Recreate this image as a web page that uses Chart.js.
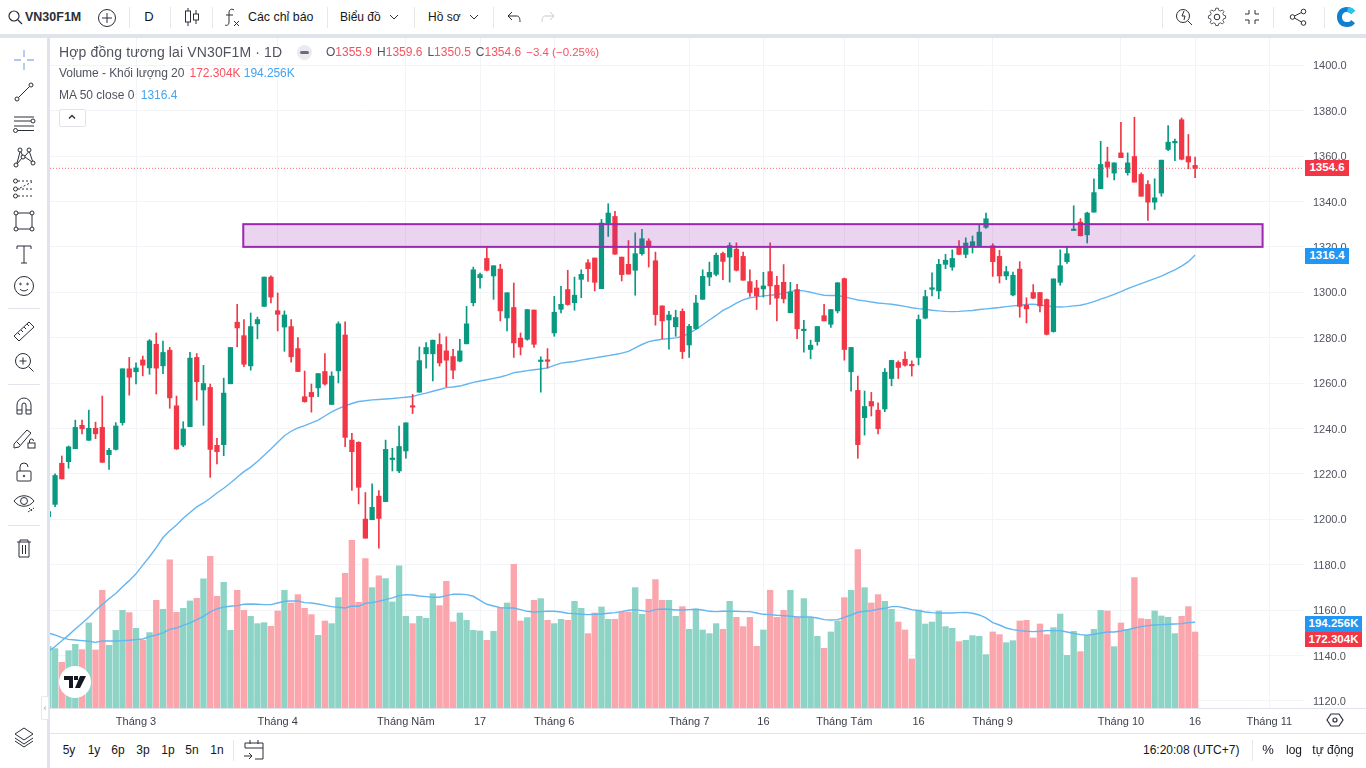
<!DOCTYPE html>
<html lang="vi">
<head>
<meta charset="utf-8">
<title>VN30F1M</title>
<script src="https://cdn.jsdelivr.net/npm/chart.js@4/dist/chart.umd.min.js"></script>
<style>
  html, body { margin: 0; width: 1366px; height: 768px; overflow: hidden; background: #fff;
    font-family: "Liberation Sans", Arial, sans-serif; color: #131722; }
  #priceChart { position: absolute; left: 50px; top: 38px; }
  .band { position: absolute; background: #e0e3eb; }
  .sep  { position: absolute; width: 1px; background: #e6e8ee; }
  .t    { position: absolute; white-space: nowrap; transform: translateY(-50%); font-size: 12px; line-height: 14px; }
  .c    { transform: translate(-50%, -50%); }
  .ic   { position: absolute; width: 28px; height: 28px; margin: -14px 0 0 -14px; fill: none; stroke: #2a2e39; stroke-width: 1; }
  .box  { position: absolute; left: 1305px; width: 44px; height: 15.5px; line-height: 15.5px; color: #fff;
    font-size: 11.5px; font-weight: bold; text-align: center; }
  .wide { width: 57px; }
  .red  { color: #f7525f; }
  .blue { color: #42a5f5; }
  .gap  { margin-left: 5px; }
</style>
</head>
<body>

<canvas id="priceChart" width="1316" height="695"></canvas>

<!-- khung toolbar -->
<div class="band" style="left:0;top:34px;width:1366px;height:4px"></div>
<div class="band" style="left:47px;top:34px;width:3px;height:734px"></div>
<div class="band" style="left:50px;top:708px;width:1316px;height:1px"></div>
<div class="band" style="left:50px;top:733px;width:1316px;height:1px"></div>

<!-- toolbar trên -->
<svg class="ic" style="left:15px;top:17px" viewBox="0 0 28 28"><circle cx="13" cy="13" r="5" stroke-width="1.2"/><path d="M17 17l4 4" stroke-width="1.2"/></svg>
<div class="t" style="left:25px;top:17px;font-size:12.5px;font-weight:bold;color:#2a2e39">VN30F1M</div>
<svg class="ic" style="left:107px;top:18px" viewBox="0 0 28 28"><circle cx="14" cy="14" r="8.5"/><path d="M14 9v10M9 14h10"/></svg>
<div class="sep" style="left:129px;top:7px;height:21px"></div>
<div class="t c" style="left:149px;top:17px;font-size:13px">D</div>
<div class="sep" style="left:170px;top:7px;height:21px"></div>
<svg class="ic" style="left:192px;top:17px" viewBox="0 0 28 28"><path d="M10 5v18M18 7v14"/><rect x="7.5" y="8" width="5" height="11" fill="#fff"/><rect x="15.5" y="11" width="5" height="6" fill="#fff"/></svg>
<div class="sep" style="left:212px;top:7px;height:21px"></div>
<svg class="ic" style="left:232px;top:16px" viewBox="0 0 28 28"><path d="M16 8c-3-2-5 0-5 3v9c0 3-2 4-4 3M8 13h7M16 19l5 5M21 19l-5 5"/></svg>
<div class="t" style="left:248px;top:17px;font-size:12.400px">Các chỉ báo</div>
<div class="sep" style="left:327px;top:7px;height:21px"></div>
<div class="t" style="left:340px;top:17px">Biểu đồ</div>
<svg class="ic" style="left:394px;top:17px" viewBox="0 0 28 28"><path d="M10 12l4 4 4-4"/></svg>
<div class="sep" style="left:414px;top:7px;height:21px"></div>
<div class="t" style="left:428px;top:17px">Hồ sơ</div>
<svg class="ic" style="left:474px;top:17px" viewBox="0 0 28 28"><path d="M10 12l4 4 4-4"/></svg>
<div class="sep" style="left:493px;top:7px;height:21px"></div>
<svg class="ic" style="left:514px;top:18px" viewBox="0 0 28 28"><path d="M12 8l-4 4 4 4M8 12h9c2 0 3 2 3 6"/></svg>
<svg class="ic" style="left:548px;top:18px;stroke:#c8cbd3" viewBox="0 0 28 28"><path d="M16 8l4 4-4 4M20 12h-9c-2 0-3 2-3 6"/></svg>

<div class="sep" style="left:1162px;top:7px;height:21px"></div>
<svg class="ic" style="left:1184px;top:17px" viewBox="0 0 28 28"><circle cx="13" cy="13" r="6.5"/><path d="M18 18l4 4M14 8l-2 5h3l-1 4"/></svg>
<svg class="ic" style="left:1217px;top:17px" viewBox="0 0 28 28"><circle cx="14" cy="14" r="2.8"/><path d="M12.5 5.5h3l.6 2.6 2.3 1 2.3-1.4 2 2-1.4 2.3 1 2.3 2.4.7v3l-2.4.6-1 2.3 1.4 2.3-2 2-2.3-1.4-2.3 1-.6 2.4h-3l-.6-2.4-2.3-1-2.3 1.4-2-2 1.4-2.3-1-2.3-2.4-.6v-3l2.4-.7 1-2.3-1.4-2.3 2-2 2.3 1.4 2.3-1z" transform="translate(14 14) scale(.8) translate(-14 -16.5)"/></svg>
<svg class="ic" style="left:1252px;top:17px" viewBox="0 0 28 28"><path d="M11 7v4H7M17 7v4h4M11 21v-4H7M17 21v-4h4"/></svg>
<div class="sep" style="left:1273px;top:7px;height:21px"></div>
<svg class="ic" style="left:1298px;top:17px" viewBox="0 0 28 28"><circle cx="19.5" cy="8.5" r="2.3"/><circle cx="8.5" cy="14" r="2.3"/><circle cx="19.5" cy="20" r="2.3"/><path d="M10.5 13l7-3.5M10.5 15l7 4"/></svg>
<div class="sep" style="left:1324px;top:7px;height:21px"></div>
<svg class="ic" style="left:1347px;top:17px;stroke:none" viewBox="0 0 28 28"><path d="M22 8c-2-3-5-4-8-4-6 0-10 4-10 10s4 10 10 10c3 0 6-1 8-4l-4-3c-1 2-2 2-4 2-3 0-5-2-5-5s2-5 5-5c2 0 3 1 4 2z" fill="#0f7fd0"/><path d="M22 8l-4 3c-1-1-2-2-4-2l1-5c3 0 5 1 7 4z" fill="#29c5ee"/></svg>

<!-- toolbar trái -->
<svg class="ic" style="left:24px;top:60px;stroke:#9db2ee;stroke-width:1.4" viewBox="0 0 28 28"><path d="M14 4v7M14 17v7M4 14h7M17 14h7"/></svg>
<svg class="ic" style="left:24px;top:92px" viewBox="0 0 28 28"><circle cx="7" cy="21" r="2"/><circle cx="21" cy="7" r="2"/><path d="M8.5 19.5l11-11"/></svg>
<svg class="ic" style="left:24px;top:125px" viewBox="0 0 28 28"><path d="M4 6h20M4 10h17M4 15h20M8 19.5h16"/><circle cx="23" cy="10" r="2"/><circle cx="5.500" cy="19.500" r="2"/></svg>
<svg class="ic" style="left:24px;top:157px" viewBox="0 0 28 28"><circle cx="6" cy="22" r="2"/><circle cx="10" cy="7" r="2"/><circle cx="13" cy="14" r="2"/><circle cx="19" cy="7" r="2"/><circle cx="23" cy="20" r="2"/><path d="M7 20l3-11M7 21l5-6M11 9l1.500 3.500M15 13l3.500-4M19.500 9l3 9M15 14l7 5"/></svg>
<svg class="ic" style="left:24px;top:189px" viewBox="0 0 28 28"><circle cx="5.500" cy="6" r="2"/><circle cx="5.500" cy="14" r="2"/><circle cx="5.500" cy="21" r="2"/><path d="M8 6h16M8 14h16M8 21h16M10 13l12-6" stroke-dasharray="2 2"/></svg>
<svg class="ic" style="left:24px;top:221px" viewBox="0 0 28 28"><rect x="6" y="6" width="16" height="16"/><circle cx="6" cy="6" r="2" fill="#fff"/><circle cx="22" cy="6" r="2" fill="#fff"/><circle cx="6" cy="22" r="2" fill="#fff"/><circle cx="22" cy="22" r="2" fill="#fff"/></svg>
<svg class="ic" style="left:24px;top:254px" viewBox="0 0 28 28"><path d="M7 9V6h14v3M14 6v17M11 23h6"/></svg>
<svg class="ic" style="left:24px;top:286px" viewBox="0 0 28 28"><circle cx="14" cy="14" r="9.500"/><circle cx="10.500" cy="12" r=".8"/><circle cx="17.500" cy="12" r=".8"/><path d="M10 17c2 2.500 6 2.500 8 0"/></svg>
<div class="band" style="left:8px;top:308px;width:32px;height:1px"></div>
<svg class="ic" style="left:24px;top:331px" viewBox="0 0 28 28"><path d="M4 19L19 5l5 5L9 24zM8 16l2 2M11 13l2 2M14 10l2 2M17 7l2 2"/></svg>
<svg class="ic" style="left:24px;top:362px" viewBox="0 0 28 28"><circle cx="13" cy="13" r="7.500"/><path d="M18.500 18.500l5 5M13 9.500v7M9.500 13h7"/></svg>
<div class="band" style="left:8px;top:384px;width:32px;height:1px"></div>
<svg class="ic" style="left:24px;top:406px" viewBox="0 0 28 28"><path d="M7 22V13a7 7 0 0 1 14 0v9h-5v-9a2 2 0 0 0-4 0v9zM7 18h5M16 18h5"/></svg>
<svg class="ic" style="left:24px;top:438px" viewBox="0 0 28 28"><path d="M4 20L17 6l4 3L9 23l-5 1zM7 18l3 3"/><rect x="18" y="19" width="7" height="5"/><path d="M19.500 19v-2a2 2 0 0 1 4 0"/></svg>
<svg class="ic" style="left:24px;top:472px" viewBox="0 0 28 28"><rect x="7" y="13" width="14" height="10" rx="1"/><path d="M10 13V9a4 4 0 0 1 8 0"/><circle cx="14" cy="18" r=".8"/></svg>
<svg class="ic" style="left:24px;top:502px" viewBox="0 0 28 28"><path d="M4 13c5-7 15-7 20 0-5 7-15 7-20 0z"/><circle cx="14" cy="13" r="3.500"/><path d="M18 24l6-4M19 20l3 3" stroke-dasharray="2 1"/></svg>
<div class="band" style="left:8px;top:525px;width:32px;height:1px"></div>
<svg class="ic" style="left:24px;top:548px" viewBox="0 0 28 28"><path d="M7 8h14M10 8V6h8v2M9 8v15h10V8M12.500 11v9M15.500 11v9"/></svg>
<svg class="ic" style="left:24px;top:737px" viewBox="0 0 28 28"><path d="M14 5l9 6-9 6-9-6zM5 15l9 6 9-6M5 18l9 6 9-6"/></svg>

<!-- legend -->
<div class="t" style="left:59px;top:52px;font-size:14px;letter-spacing:.13px;color:#50535e">Hợp đồng tương lai VN30F1M · 1D</div>
<div style="position:absolute;left:297px;top:45px;width:15px;height:15px;border-radius:50%;background:#e9ebf0"></div>
<div style="position:absolute;left:300px;top:51px;width:9px;height:3px;border-radius:2px;background:#6a6d78"></div>
<div class="t" id="ohlcLegend" style="left:326px;top:52px;color:#50535e"></div>
<div class="t" style="left:59px;top:73px;color:#50535e;letter-spacing:-.06px">Volume - Khối lượng 20 <span class="red" style="margin-left:2px">172.304K</span> <span class="blue" style="margin-left:0">194.256K</span></div>
<div class="t" style="left:59px;top:95px;color:#50535e">MA 50 close 0 <span class="blue" style="margin-left:3px">1316.4</span></div>
<div style="position:absolute;left:59px;top:109px;width:25px;height:16px;border:1px solid #e0e3eb;border-radius:2px;background:#fff"></div>
<svg class="ic" style="left:72px;top:117px;stroke-width:1.4" viewBox="0 0 28 28"><path d="M11 15.500l3-3 3 3"/></svg>

<!-- nhãn giá bên phải -->
<div class="box" style="top:160px;background:#f23645">1354.6</div>
<div class="box" style="top:248px;background:#2196f3">1316.4</div>
<div class="box wide" style="top:616px;background:#2196f3">194.256K</div>
<div class="box wide" style="top:631.500px;background:#f23645">172.304K</div>

<!-- logo TV -->
<div style="position:absolute;left:59px;top:666px;width:32px;height:32px;border-radius:50%;background:#fff"></div>
<svg style="position:absolute;left:64px;top:675px" width="22" height="14" viewBox="0 0 22 14"><path d="M0 1h9v12H5V5H0zM10 1h4v4h-4zM16 1h6l-6 12h-5z" fill="#131722"/></svg>
<div style="position:absolute;left:41px;top:696px;width:6px;height:22px;border:1px solid #e6e8ee;border-radius:2px;background:#fff;color:#9598a1;font-size:9px;line-height:22px;text-align:center">‹</div>

<!-- trục thời gian, nút đáy -->
<svg class="ic" style="left:1335px;top:720px;stroke-width:1.2" viewBox="0 0 28 28"><path d="M10 8h8l4 6-4 6h-8l-4-6z"/><circle cx="14" cy="14" r="2"/></svg>
<div class="t c" style="left:69px;top:750px">5y</div>
<div class="t c" style="left:94px;top:750px">1y</div>
<div class="t c" style="left:118px;top:750px">6p</div>
<div class="t c" style="left:143px;top:750px">3p</div>
<div class="t c" style="left:168px;top:750px">1p</div>
<div class="t c" style="left:192px;top:750px">5n</div>
<div class="t c" style="left:217px;top:750px">1n</div>
<div class="sep" style="left:233px;top:740px;height:21px"></div>
<svg class="ic" style="left:254px;top:750px" viewBox="0 0 28 28"><path d="M5 12V7h18v16H15M5 12h18M10 4v4M18 4v4M4 20h8M9 17l3 3-3 3"/></svg>
<div class="t" style="left:1143px;top:750px">16:20:08 (UTC+7)</div>
<div class="sep" style="left:1252px;top:740px;height:21px"></div>
<div class="t c" style="left:1268px;top:750px;font-size:13px">%</div>
<div class="t c" style="left:1294px;top:750px">log</div>
<div class="t c" style="left:1333px;top:750px">tự động</div>

<script>
'use strict';

// ── Data ──────────────────────────────────────────────────
const opens = [
  1201.2,1206.6,1224.7,1225.4,1231.1,1241.4,1234.8,1240.1,1240.5,1228.5,
  1230.8,1242.6,1266.3,1265.0,1270.2,1266.7,1277.1,1267.6,1274.5,1250.0,
  1232.7,1240.8,1271.3,1257.0,1258.1,1232.6,1232.9,1259.7,1286.8,1280.9,
  1267.6,1286.1,1293.8,1306.7,1291.9,1284.7,1284.9,1275.2,1254.0,1255.9,
  1257.9,1265.1,1250.6,1265.4,1281.2,1234.9,1233.9,1200.1,1199.8,1210.2,
  1207.8,1226.3,1221.3,1230.1,1250.0,1256.0,1272.9,1272.9,1277.0,1274.2,
  1271.7,1269.7,1277.3,1295.4,1306.4,1314.9,1307.2,1310.2,1288.7,1293.3,
  1279.8,1279.3,1292.2,1269.5,1270.2,1282.1,1292.5,1301.2,1295.4,1305.7,
  1313.0,1315.1,1301.6,1330.5,1333.4,1315.5,1312.3,1309.7,1317.0,1322.6,
  1313.9,1294.0,1287.8,1284.8,1291.6,1276.8,1284.0,1296.9,1306.7,1307.9,
  1317.1,1315.5,1319.0,1315.8,1304.7,1301.9,1301.5,1309.1,1303.1,1304.4,
  1291.0,1301.2,1283.1,1274.8,1278.3,1289.7,1285.9,1291.8,1306.0,1265.0,
  1256.8,1244.8,1251.9,1248.1,1248.6,1262.0,1269.1,1270.5,1268.0,1271.3,
  1288.6,1301.3,1300.6,1312.3,1311.1,1320.2,1316.7,1320.2,1320.5,1328.6,
  1320.5,1315.8,1307.2,1298.8,1310.2,1294.3,1299.9,1299.9,1296.8,1282.7,
  1304.4,1313.5,1327.2,1330.9,1325.3,1335.3,1345.6,1357.4,1352.5,1361.4,
  1352.7,1359.8,1351.9,1347.5,1339.7,1343.7,1362.9,1365.8,1376.0,1359.8,
  1355.9
];
const closes = [
  1203.4,1219.3,1217.8,1231.9,1240.5,1239.9,1240.1,1237.7,1225.1,1230.4,
  1241.1,1266.3,1262.6,1266.7,1267.9,1278.6,1266.6,1273.5,1253.5,1231.0,
  1239.8,1271.0,1260.6,1259.8,1230.8,1229.8,1255.6,1275.7,1284.3,1268.3,
  1284.9,1288.0,1306.7,1297.9,1290.3,1290.0,1271.6,1265.1,1251.8,1254.0,
  1264.2,1259.6,1263.1,1286.1,1236.1,1229.8,1214.1,1191.7,1205.3,1200.4,
  1230.8,1227.0,1232.1,1242.5,1249.4,1269.9,1275.7,1278.9,1268.9,1270.1,
  1265.7,1274.2,1286.1,1309.9,1307.8,1309.7,1311.7,1291.8,1299.8,1277.7,
  1275.9,1292.4,1277.1,1270.1,1269.6,1291.2,1294.7,1294.6,1298.7,1307.9,
  1310.4,1304.4,1330.5,1334.9,1316.8,1307.8,1308.0,1317.0,1323.6,1320.4,
  1290.2,1287.4,1290.0,1288.9,1273.9,1285.0,1295.3,1307.0,1308.8,1316.3,
  1313.6,1320.6,1309.7,1305.3,1299.9,1298.4,1302.8,1302.8,1297.4,1297.1,
  1300.1,1283.9,1283.4,1276.7,1284.9,1287.4,1292.4,1304.2,1274.8,1275.7,
  1232.9,1249.7,1249.9,1239.9,1264.8,1270.0,1266.9,1267.9,1267.6,1288.0,
  1298.1,1302.0,1312.3,1314.1,1314.9,1316.7,1321.7,1322.3,1326.5,1332.4,
  1313.5,1307.2,1309.1,1307.5,1293.8,1292.7,1297.4,1294.0,1281.5,1305.9,
  1311.7,1317.0,1327.8,1324.9,1334.9,1343.9,1356.3,1355.1,1357.0,1359.3,
  1357.0,1348.5,1342.3,1339.7,1341.6,1358.2,1366.1,1366.5,1358.6,1357.4,
  1354.6
];
const highs = [
  1204.0,1220.0,1227.9,1232.3,1243.7,1243.7,1248.1,1242.8,1254.3,1231.3,
  1242.6,1266.3,1271.3,1268.9,1271.9,1279.2,1282.1,1278.5,1275.7,1254.3,
  1243.0,1273.6,1273.0,1267.8,1259.6,1235.7,1262.2,1275.7,1294.7,1288.0,
  1290.9,1289.1,1306.7,1307.2,1299.7,1291.8,1288.0,1280.1,1265.3,1259.6,
  1264.2,1273.0,1265.0,1287.0,1287.0,1237.9,1234.2,1211.8,1215.6,1212.7,
  1234.9,1231.3,1241.1,1242.5,1255.0,1275.9,1277.9,1278.9,1281.8,1280.4,
  1274.9,1279.3,1293.8,1311.1,1308.5,1320.2,1311.7,1312.3,1299.8,1304.1,
  1282.1,1292.4,1292.2,1271.6,1275.2,1298.2,1302.6,1309.7,1306.7,1309.9,
  1314.4,1315.1,1332.1,1339.0,1335.7,1315.5,1322.8,1326.2,1327.7,1323.6,
  1317.7,1294.0,1291.6,1292.1,1292.7,1285.9,1298.7,1309.9,1313.3,1317.3,
  1317.7,1321.8,1321.8,1317.7,1309.9,1305.3,1308.8,1321.8,1307.0,1312.2,
  1304.4,1303.5,1287.7,1278.9,1284.9,1294.7,1292.4,1304.2,1306.3,1275.7,
  1263.1,1256.5,1255.9,1251.3,1266.4,1270.0,1269.8,1273.8,1269.8,1290.0,
  1300.9,1308.6,1314.5,1316.7,1318.7,1322.8,1324.0,1324.8,1329.9,1334.9,
  1321.4,1318.5,1311.4,1308.9,1313.5,1297.6,1303.4,1299.9,1297.1,1305.9,
  1318.7,1319.9,1338.1,1332.4,1335.3,1350.0,1366.5,1363.9,1357.0,1374.9,
  1361.4,1377.1,1352.6,1349.2,1350.0,1358.2,1373.4,1367.5,1376.8,1369.5,
  1359.6
];
const lows = [
  1200.0,1205.6,1217.8,1222.5,1231.1,1237.6,1234.8,1235.5,1225.1,1222.0,
  1230.5,1241.5,1254.7,1259.6,1263.2,1263.9,1255.2,1264.2,1248.9,1230.8,
  1232.0,1240.8,1252.5,1241.4,1218.5,1224.4,1228.0,1259.7,1276.0,1267.2,
  1265.7,1279.5,1293.8,1295.3,1283.0,1274.0,1269.2,1265.1,1251.6,1247.2,
  1254.0,1259.1,1250.6,1260.1,1232.0,1212.7,1206.8,1191.7,1199.8,1187.3,
  1207.8,1221.3,1220.6,1226.9,1246.6,1256.0,1266.6,1261.0,1267.5,1258.4,
  1262.0,1269.4,1277.3,1294.0,1301.8,1309.4,1296.9,1287.4,1283.0,1271.3,
  1272.4,1278.9,1275.7,1256.0,1266.6,1280.6,1290.9,1294.3,1292.1,1297.6,
  1304.8,1300.6,1301.6,1324.6,1316.7,1305.0,1308.0,1298.7,1316.3,1311.1,
  1285.5,1279.6,1274.9,1280.6,1270.8,1271.3,1283.6,1296.9,1302.9,1307.2,
  1305.6,1304.5,1309.4,1305.3,1298.2,1292.4,1297.9,1294.7,1287.4,1295.3,
  1290.9,1279.6,1273.6,1270.7,1276.7,1287.4,1284.5,1290.9,1270.1,1256.5,
  1226.9,1237.1,1245.5,1237.6,1247.4,1258.8,1262.0,1267.5,1263.1,1268.0,
  1288.3,1298.4,1297.2,1310.4,1309.7,1316.6,1315.2,1317.3,1320.2,1328.1,
  1307.0,1304.1,1305.6,1298.4,1289.0,1286.5,1297.2,1291.3,1281.2,1282.4,
  1303.1,1312.7,1327.2,1324.8,1321.7,1335.3,1345.6,1350.7,1349.5,1359.3,
  1351.6,1348.5,1342.3,1331.6,1336.5,1342.3,1362.4,1358.0,1358.3,1354.4,
  1350.5
];
// Khối lượng, đơn vị K
const volumes = [
  140.0,134.6,103.6,130.0,144.4,132.3,192.8,131.5,266.9,142.1,
  176.1,221.5,216.2,180.7,153.5,170.9,244.2,223.8,335.7,217.0,
  226.0,242.7,248.7,292.6,344.0,253.3,285.0,176.1,266.9,221.5,
  207.9,191.3,193.5,185.2,220.0,266.9,238.1,257.0,226.0,211.7,
  164.8,197.3,191.3,250.2,305.4,380.3,239.7,338.7,272.9,299.4,
  293.3,240.4,322.1,207.9,191.3,207.9,203.4,259.3,232.1,287.3,
  195.0,215.5,198.8,176.1,174.6,153.5,173.9,227.6,238.1,325.8,
  197.3,204.9,244.2,248.0,198.8,191.3,201.1,198.8,241.9,226.0,
  168.6,215.5,229.1,201.1,201.1,217.7,217.7,272.9,212.4,246.5,
  291.1,244.2,244.2,207.9,229.8,178.4,224.5,176.9,168.6,191.3,
  178.4,241.9,205.6,184.5,205.6,139.9,176.9,266.9,205.6,221.5,
  266.9,204.9,248.0,204.9,162.5,135.3,172.4,197.3,250.2,266.9,
  359.1,272.9,238.1,257.0,241.9,223.8,195.0,176.9,111.1,222.3,
  190.5,195.0,220.0,184.5,180.7,150.4,153.5,164.1,162.5,121.0,
  172.4,166.3,148.2,152.7,197.3,198.8,158.8,190.5,166.3,182.2,
  213.2,119.4,173.9,127.8,164.1,178.4,221.5,220.0,139.1,192.8,
  178.4,295.6,202.6,201.1,220.0,208.7,205.6,168.6,207.9,229.8,
  172.3
];
const volumeMa = [
  170.0,165.6,159.5,155.7,154.2,152.7,151.2,148.9,152.0,152.0,
  152.0,152.7,153.5,155.0,156.5,161.8,165.6,170.1,178.4,181.4,
  187.5,192.8,200.3,207.9,217.7,224.5,229.1,230.6,232.1,235.1,
  235.9,235.1,234.4,234.4,238.1,241.9,242.7,242.7,238.9,238.1,
  235.9,232.8,229.8,228.3,226.8,231.3,230.6,237.4,238.9,241.9,
  245.7,249.5,254.8,257.0,256.3,254.0,252.5,251.0,251.0,254.8,
  258.1,257.8,257.0,253.3,244.2,235.1,231.3,227.6,226.8,226.8,
  223.0,219.2,217.7,218.5,219.2,219.2,217.7,214.7,214.0,212.4,
  211.7,212.4,213.2,214.7,216.2,218.5,221.5,223.0,220.8,218.5,
  223.0,224.5,223.8,222.3,222.3,223.0,223.8,222.3,219.2,218.5,
  219.2,219.2,219.2,218.5,218.5,215.5,212.4,211.7,210.2,209.4,
  207.9,206.4,206.4,206.4,204.1,200.3,199.6,200.3,205.6,210.9,
  217.0,219.2,220.8,223.8,226.0,229.8,229.8,226.8,223.0,220.8,
  217.7,216.2,215.5,215.5,215.5,216.2,216.9,214.7,210.9,204.1,
  193.5,188.2,181.4,177.7,175.4,173.9,173.1,173.9,175.4,175.4,
  175.4,172.4,169.3,166.3,164.8,167.1,170.1,172.4,172.4,174.6,
  177.7,181.4,184.5,186.7,188.2,189.0,189.8,190.5,191.3,193.5,
  194.3
];
const priceMa = [
  1141.9,1144.0,1146.5,1149.0,1151.7,1154.2,1156.9,1159.8,1162.5,1165.0,
  1167.3,1170.3,1173.0,1176.0,1179.8,1183.5,1187.5,1192.0,1195.0,1197.5,
  1200.5,1203.0,1205.5,1207.2,1209.3,1211.6,1213.7,1216.0,1218.5,1221.0,
  1223.0,1225.5,1228.2,1231.0,1234.0,1236.8,1238.8,1240.3,1241.3,1242.5,
  1243.7,1245.5,1247.3,1248.8,1250.0,1251.0,1251.9,1252.2,1252.6,1252.8,
  1253.0,1253.2,1253.5,1253.8,1254.1,1254.9,1255.6,1256.4,1257.2,1258.0,
  1258.3,1258.7,1259.5,1260.3,1260.9,1261.5,1262.1,1262.7,1263.5,1264.6,
  1265.0,1265.5,1265.9,1266.2,1266.7,1267.8,1268.8,1269.2,1269.5,1270.1,
  1270.6,1271.1,1271.6,1272.1,1272.6,1273.2,1274.0,1275.5,1277.0,1278.3,
  1278.9,1279.3,1279.6,1279.9,1280.5,1282.0,1283.7,1285.7,1287.8,1289.8,
  1292.0,1293.5,1295.2,1296.7,1297.6,1298.0,1298.4,1298.7,1299.0,1299.5,
  1300.3,1300.9,1300.6,1300.0,1299.3,1298.7,1298.6,1298.6,1298.0,1297.3,
  1296.6,1296.2,1295.7,1295.3,1295.0,1294.7,1294.3,1293.8,1293.2,1292.8,
  1292.5,1292.1,1291.8,1291.6,1291.5,1291.6,1291.8,1292.0,1292.4,1292.7,
  1293.0,1293.3,1293.7,1294.0,1294.3,1294.6,1294.8,1294.4,1294.0,1293.6,
  1293.5,1293.7,1294.0,1294.3,1295.0,1295.9,1297.0,1298.0,1299.1,1300.3,
  1301.6,1302.7,1303.8,1304.9,1306.0,1307.1,1308.5,1309.9,1311.5,1313.5,
  1316.4
];

const priceTicks = [1120,1140,1160,1180,1200,1220,1240,1260,1280,1300,1320,1340,1360,1380,1400];
const timeTickIdx = [13,34,53,64,75,95,106,118,129,140,159,170,181];
const timeTickLabels = ['Tháng 3','Tháng 4','Tháng Năm','17','Tháng 6','Tháng 7','16','Tháng Tám','16','Tháng 9','Tháng 10','16','Tháng 11'];

const lastPrice = closes[closes.length - 1];
const zoneIdx = [28.9, 180];     // vùng tím: từ nến … đến nến …
const zonePrice = [1320, 1330];  // vùng tím: giá dưới, giá trên

// ── Chart config ──────────────────────────────────────────
const UP_COLOR   = '#089981';
const DOWN_COLOR = '#f23645';
const UP_VOL     = '#8dd4c6';
const DOWN_VOL   = '#fba6ad';
const MA_COLOR   = '#64b5f0';
const GRID_COLOR = '#f2f4f8';
const TICK_FONT  = { family: "'Liberation Sans', Arial, sans-serif", size: 11 };

const X_MIN = 0.25;
const X_MAX = 186.14;

// ── Legend OHLC ───────────────────────────────────────────
const n = closes.length - 1;
document.getElementById('ohlcLegend').innerHTML =
  `O<span class="red">${opens[n].toFixed(1)}</span><span class="gap">H</span><span class="red">${highs[n].toFixed(1)}</span>` +
  `<span class="gap">L</span><span class="red">${lows[n].toFixed(1)}</span><span class="gap">C</span><span class="red">${closes[n].toFixed(1)}</span>` +
  `<span class="gap red" style="font-size:11.500px">−3.4 (−0.25%)</span>`;

// ── Build datasets ────────────────────────────────────────
const isUp = closes.map((c, i) => c >= opens[i]);
const points = arr => arr.map((y, x) => ({ x, y }));

const volumeSet = {
  data: points(volumes), yAxisID: 'yVol', order: 6, grouped: false, barThickness: 5.7,
  backgroundColor: isUp.map(u => u ? UP_VOL : DOWN_VOL)
};
const volumeMaSet = {
  type: 'line', data: points(volumeMa), yAxisID: 'yVol', order: 5,
  borderColor: MA_COLOR, borderWidth: 1.4, pointRadius: 0, tension: 0
};
const priceMaSet = {
  type: 'line', data: points(priceMa), yAxisID: 'y', order: 4,
  borderColor: MA_COLOR, borderWidth: 1.4, pointRadius: 0, tension: 0
};
const wickSet = {
  data: highs.map((h, x) => ({ x, y: [lows[x], h] })), yAxisID: 'y', order: 3, grouped: false, barThickness: 1,
  backgroundColor: isUp.map(u => u ? UP_COLOR : DOWN_COLOR)
};
const bodySet = {
  data: opens.map((o, x) => ({ x, y: [o, closes[x]] })), yAxisID: 'y', order: 2, grouped: false, barThickness: 4.6, minBarLength: 1.5,
  backgroundColor: isUp.map(u => u ? UP_COLOR : DOWN_COLOR)
};
const lastPriceSet = {
  type: 'line', data: [{ x: X_MIN, y: lastPrice }, { x: X_MAX, y: lastPrice }], yAxisID: 'y', order: 1,
  borderColor: 'rgba(242,54,69,.75)', borderWidth: 1, borderDash: [1, 2], pointRadius: 0
};

// ── Vùng tím (vẽ đè lên nến) ──────────────────────────────
const zonePlugin = {
  id: 'zone',
  afterDatasetsDraw(chart) {
    const { ctx, scales: { x, y } } = chart;
    const left = x.getPixelForValue(zoneIdx[0]);
    const right = x.getPixelForValue(zoneIdx[1]);
    const top = y.getPixelForValue(zonePrice[1]);
    const bottom = y.getPixelForValue(zonePrice[0]);
    ctx.save();
    ctx.fillStyle = 'rgba(156,39,176,.2)';
    ctx.fillRect(left, top, right - left, bottom - top);
    ctx.strokeStyle = '#9c27b0';
    ctx.lineWidth = 2;
    ctx.strokeRect(left, top, right - left, bottom - top);
    ctx.restore();
  }
};

// ── Build chart ───────────────────────────────────────────
new Chart(document.getElementById('priceChart'), {
  type: 'bar',
  data: { datasets: [volumeSet, volumeMaSet, priceMaSet, wickSet, bodySet, lastPriceSet] },
  plugins: [zonePlugin],
  options: {
    responsive: false,
    animation: false,
    layout: { padding: 0 },
    plugins: { legend: { display: false }, tooltip: { enabled: false } },
    scales: {
      x: {
        type: 'linear', min: X_MIN, max: X_MAX, offset: false,
        grid: { color: GRID_COLOR, offset: false, drawTicks: false },
        border: { display: false },
        afterBuildTicks: s => { s.ticks = timeTickIdx.map(value => ({ value })); },
        afterFit: s => { s.height = 25; s.paddingLeft = 0; s.paddingRight = 0; },
        ticks: {
          font: TICK_FONT, color: '#3b3e48', padding: 7, maxRotation: 0, autoSkip: false,
          callback: (v, i) => timeTickLabels[i]
        }
      },
      y: {
        position: 'right', min: 1116.9, max: 1412, beginAtZero: false,
        grid: { color: GRID_COLOR, drawTicks: false },
        border: { display: false },
        afterBuildTicks: s => { s.ticks = priceTicks.map(value => ({ value })); },
        afterFit: s => { s.width = 62; s.paddingTop = 0; s.paddingBottom = 0; },
        ticks: {
          font: TICK_FONT, color: '#50535e', padding: 9, autoSkip: false, labelOffset: 1,
          callback: v => v.toFixed(1)
        }
      },
      yVol: { display: false, min: 0, max: 1519 }
    }
  }
});
</script>
</body>
</html>
